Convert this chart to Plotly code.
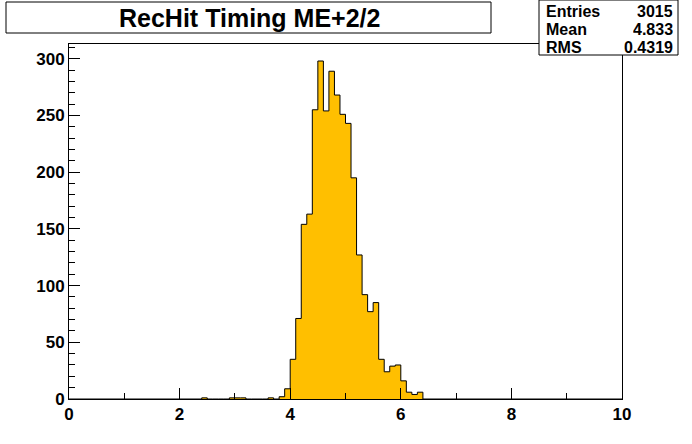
import plotly.graph_objects as go

# ---- data ----
bin_lo = [2.4, 2.5, 2.6, 2.7, 2.8, 2.9, 3.0, 3.1, 3.2, 3.3, 3.4, 3.5, 3.6, 3.7, 3.8, 3.9,
          4.0, 4.1, 4.2, 4.3, 4.4, 4.5, 4.6, 4.7, 4.8, 4.9, 5.0, 5.1, 5.2, 5.3, 5.4, 5.5,
          5.6, 5.7, 5.8, 5.9, 6.0, 6.1, 6.2, 6.3]
counts = [1, 0, 0, 0, 0, 1, 1, 1, 0, 0, 0, 0, 1, 0, 2, 9,
          35, 71, 154, 163, 255, 298, 254, 289, 268, 251, 243, 195, 127, 92, 77, 85,
          35, 24, 29, 30, 16, 6, 4, 6]
bin_width = 0.1
x_min, x_max = 0, 10
y_max = 313
title = "RecHit Timing ME+2/2"
stats_labels = ["Entries", "Mean", "RMS"]
stats_values = ["3015", "4.833", "0.4319"]

# step outline built from bin edges
xs = [x_min] + bin_lo + [round(bin_lo[-1] + bin_width, 2), x_max]
ys = [0] + counts + [0, 0]

W, H = 692, 444
L, R, T, B = 69, 622, 44, 399

def px(xp):
    return (xp - L) / (R - L)

def py(yp):
    return (B - yp) / (B - T)

FONT = "Liberation Sans, Arial, sans-serif"

fig = go.Figure()
fig.add_trace(go.Scatter(
    x=xs, y=ys, mode="lines", line=dict(shape="hv", color="black", width=1),
    fill="tozeroy", fillcolor="#FFBF00", hoverinfo="skip", showlegend=False))

axis_common = dict(
    showgrid=False, zeroline=False, showline=True, linecolor="black", linewidth=1,
    mirror=True, ticks="inside", tickcolor="black", tickwidth=1,
    tickfont=dict(family=FONT, size=17, color="black", weight="bold"),
)
fig.update_xaxes(range=[x_min, x_max], dtick=2, tick0=0, ticklen=11,
                 minor=dict(dtick=1, ticklen=6, ticks="inside", tickcolor="black"),
                 **axis_common)
fig.update_yaxes(range=[0, y_max], dtick=50, tick0=0, ticklen=11,
                 minor=dict(dtick=10, ticklen=6, ticks="inside", tickcolor="black"),
                 **axis_common)

shapes = [
    dict(type="rect", xref="paper", yref="paper", x0=px(6), x1=px(491), y0=py(33), y1=py(2),
         line=dict(color="black", width=1), fillcolor="white", layer="above"),
    dict(type="rect", xref="paper", yref="paper", x0=px(539), x1=px(678), y0=py(55), y1=py(0),
         line=dict(color="black", width=1), fillcolor="white", layer="above"),
]
annotations = [
    dict(text=title, xref="paper", yref="paper", x=px(249), y=py(18), showarrow=False,
         xanchor="center", yanchor="middle",
         font=dict(family=FONT, size=25, color="black", weight="bold")),
]
row_y = [11.5, 29.5, 47.5]
for lab, val, yy in zip(stats_labels, stats_values, row_y):
    annotations.append(dict(text=lab, xref="paper", yref="paper", x=px(544), y=py(yy),
                            showarrow=False, xanchor="left", yanchor="middle", height=17,
                            font=dict(family=FONT, size=16, color="black", weight="bold")))
    annotations.append(dict(text=val, xref="paper", yref="paper", x=px(675), y=py(yy),
                            showarrow=False, xanchor="right", yanchor="middle", height=17,
                            font=dict(family=FONT, size=16, color="black", weight="bold")))

fig.update_layout(
    width=W, height=H, margin=dict(l=L, r=W - R, t=T, b=H - B),
    paper_bgcolor="white", plot_bgcolor="white",
    shapes=shapes, annotations=annotations, showlegend=False,
)
fig.write_html("out.html", config={"displayModeBar": False, "staticPlot": True},
               post_script="document.body.style.margin='0';document.body.style.overflow='hidden';")
